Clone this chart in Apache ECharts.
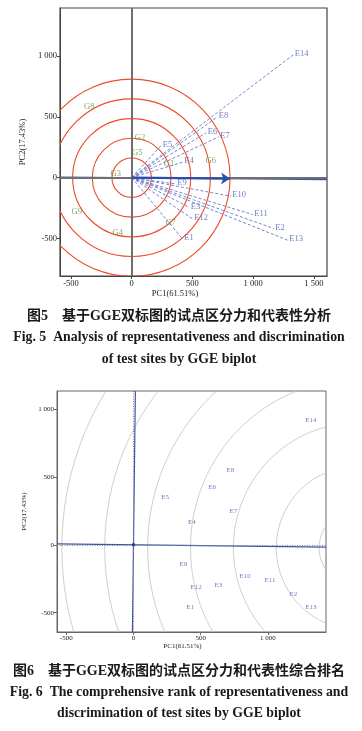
<!DOCTYPE html>
<html><head><meta charset="utf-8">
<script src="https://cdn.jsdelivr.net/npm/echarts@6/dist/echarts.min.js"></script>
<style>html,body{margin:0;padding:0;background:#fff}#c{width:362px;height:731px}</style>
</head><body><div id="c"></div>
<script>
// ---------- Figure 5 data ----------
const envNames = ['E1','E2','E3','E4','E5','E6','E7','E8','E9','E10','E11','E12','E13','E14'];
const fig5EnvX = [420, 1170, 474, 421, 243, 614, 717, 704, 363, 816, 997, 503, 1285, 1330];
const fig5EnvY = [-505, -418, -243, 128, 265, 369, 336, 498, -51, -152, -303, -339, -514, 1010];
const genoNames = ['G1','G2','G3','G4','G5','G6','G7','G8','G9'];
const fig5GenoX = [307, 69, -131, -115, 46, 651, 321, -349, -452];
const fig5GenoY = [117, 329, 29, -451, 204, 136, -372, 583, -276];
const fig5CircleRadii = [162, 324, 486, 648, 810];
const fig5AeaSlope = -0.0092;
const fig5ArrowLength = 810;
const fig5XRange = [-590, 1608];
const fig5YRange = [-808, 1395];
const fig5XTicks = [-500, 0, 500, 1000, 1500];
const fig5YTicks = [-500, 0, 500, 1000];

// ---------- Figure 6 data ----------
const fig6EnvX = [421, 1189, 631, 434, 236, 585, 743, 721, 371, 830, 1016, 466, 1320, 1320];
const fig6EnvY = [-458, -360, -294, 166, 347, 427, 244, 550, -140, -233, -263, -314, -461, 917];
const fig6CircleCenter = [1662, -23];
const fig6CircleRadii = [281, 600, 919, 1238, 1557, 1876, 2195];
const fig6AeaSlope = -0.0123;
const fig6XRange = [-569, 1432];
const fig6YRange = [-642, 1132];
const fig6XTicks = [-500, 0, 500, 1000];
const fig6YTicks = [-500, 0, 500, 1000];

const xTitle = 'PC1(61.51%)';
const yTitle = 'PC2(17.43%)';

// ---------- helpers ----------
const serif = '"Liberation Serif","Times New Roman",serif';
function fmt(v){ return Math.abs(v) >= 1000 ? String(v).replace(/(\d)(\d{3})$/, '$1 $2') : String(v); }
function zip(xs, ys, names){ return xs.map((x,i)=>[x, ys[i], names[i]]); }

function circles(xi, center, radii, color, width){
  return {
    type: 'custom', xAxisIndex: xi, yAxisIndex: xi, clip: true, silent: true, z: 1,
    data: radii.map(r => [center[0], center[1], r]),
    renderItem: function(params, api){
      const c = api.coord([api.value(0), api.value(1)]);
      const s = api.size([api.value(2), api.value(2)]);
      return { type: 'ellipse', shape: {cx: c[0], cy: c[1], rx: s[0], ry: s[1]},
               style: {fill: 'none', stroke: color, lineWidth: width} };
    }
  };
}

function makeAxis(idx, range, ticks, fs, color, name, nameGap, namePad, isY){
  const a = {
    gridIndex: idx, type: 'value', min: range[0], max: range[1],
    splitLine: {show: false},
    axisLine: {show: true, onZero: false, lineStyle: {color: color, width: 1}},
    axisTick: {show: true, customValues: ticks, length: 3, lineStyle: {color: color, width: 1}},
    axisLabel: {customValues: ticks, formatter: fmt, fontFamily: serif, fontSize: fs, color: '#222', margin: 3},
    name: name, nameLocation: 'middle', nameGap: nameGap,
    nameTextStyle: {fontFamily: serif, fontSize: fs, color: '#222', padding: namePad}
  };
  if (isY) a.nameRotate = 90;
  return a;
}

const series = [];
// Fig 5
series.push(circles(0, [0,0], fig5CircleRadii, '#ee4b2b', 1.1));
series.push({
  type: 'scatter', xAxisIndex: 0, yAxisIndex: 0, symbolSize: 0, silent: true, z: 2,
  data: [[0,0]],
  markLine: {symbol: 'none', silent: true, label: {show: false},
    lineStyle: {color: '#6f6f6f', width: 2, type: 'solid'},
    data: [{xAxis: 0}, {yAxis: 0}]}
});
series.push({
  type: 'lines', coordinateSystem: 'cartesian2d', xAxisIndex: 0, yAxisIndex: 0, z: 3, silent: true,
  lineStyle: {color: '#7486cc', width: 1, type: [3, 2], opacity: 1},
  data: fig5EnvX.map((x,i)=>({coords: [[0,0],[x, fig5EnvY[i]]]}))
});
series.push({
  type: 'line', xAxisIndex: 0, yAxisIndex: 0, showSymbol: false, silent: true, z: 4,
  lineStyle: {color: '#3a55a8', width: 1.3},
  data: [[fig5XRange[0], fig5AeaSlope*fig5XRange[0]], [fig5XRange[1], fig5AeaSlope*fig5XRange[1]]]
});
series.push({
  type: 'lines', coordinateSystem: 'cartesian2d', xAxisIndex: 0, yAxisIndex: 0, z: 5, silent: true,
  symbol: ['none', 'arrow'], symbolSize: 9,
  lineStyle: {color: '#2d4ea8', width: 2.2, opacity: 1},
  data: [{coords: [[0,0],[fig5ArrowLength, fig5AeaSlope*fig5ArrowLength]]}]
});
series.push({
  type: 'scatter', xAxisIndex: 0, yAxisIndex: 0, symbolSize: 0, silent: true, z: 6,
  data: zip(fig5EnvX, fig5EnvY, envNames),
  label: {show: true, position: 'right', distance: 1.5, offset: [0,-1], formatter: p => p.data[2],
    fontFamily: serif, fontSize: 8.5, color: '#4a5db6'}
});
series.push({
  type: 'scatter', xAxisIndex: 0, yAxisIndex: 0, symbolSize: 0, silent: true, z: 6,
  data: zip(fig5GenoX, fig5GenoY, genoNames),
  label: {show: true, position: 'inside', formatter: p => p.data[2],
    fontFamily: serif, fontSize: 8.5, color: '#5f9444'}
});

// Fig 6
series.push(circles(1, fig6CircleCenter, fig6CircleRadii, '#c9c9c9', 0.9));
series.push({
  type: 'scatter', xAxisIndex: 1, yAxisIndex: 1, symbol: 'rect', symbolSize: 3, silent: true, z: 6,
  itemStyle: {color: '#1f2f6a'},
  data: [[0,0]],
  markLine: {symbol: 'none', silent: true, label: {show: false},
    lineStyle: {color: '#8a8a8a', width: 1, type: [1, 1.5]},
    data: [{xAxis: 0}, {yAxis: 0}]}
});
series.push({
  type: 'line', xAxisIndex: 1, yAxisIndex: 1, showSymbol: false, silent: true, z: 4,
  lineStyle: {color: '#3d56a6', width: 1.2},
  data: [[fig6XRange[0], fig6AeaSlope*fig6XRange[0]], [fig6XRange[1], fig6AeaSlope*fig6XRange[1]]]
});
series.push({
  type: 'line', xAxisIndex: 1, yAxisIndex: 1, showSymbol: false, silent: true, z: 4,
  lineStyle: {color: '#3d56a6', width: 1.2},
  data: [[-fig6AeaSlope*fig6YRange[0], fig6YRange[0]], [-fig6AeaSlope*fig6YRange[1], fig6YRange[1]]]
});
series.push({
  type: 'scatter', xAxisIndex: 1, yAxisIndex: 1, symbolSize: 0, silent: true, z: 6,
  data: zip(fig6EnvX, fig6EnvY, envNames),
  label: {show: true, position: 'inside', formatter: p => p.data[2],
    fontFamily: serif, fontSize: 7, color: '#4a5db6'}
});

const capCN = '"Liberation Serif","Noto Sans CJK SC",sans-serif';
function cap(text, y, size, fam){
  return {type: 'text', x: 179, y: y, silent: true,
    style: {text: text, font: 'bold ' + size + 'px ' + fam, fill: '#1a1a1a', align: 'center', verticalAlign: 'middle'}};
}

const option = {
  animation: false,
  backgroundColor: '#fff',
  grid: [
    {left: 60, top: 8, width: 267, height: 268, show: true, borderColor: '#444', borderWidth: 1.2, backgroundColor: 'transparent'},
    {left: 57, top: 391, width: 269, height: 241, show: true, borderColor: '#666', borderWidth: 1, backgroundColor: 'transparent'}
  ],
  xAxis: [
    makeAxis(0, fig5XRange, fig5XTicks, 8.5, '#444', xTitle, 12, [0, 37, 0, 0], false),
    makeAxis(1, fig6XRange, fig6XTicks, 7, '#666', xTitle, 9, [0, 18, 0, 0], false)
  ],
  yAxis: [
    makeAxis(0, fig5YRange, fig5YTicks, 8.5, '#444', yTitle, 22, 0, true),
    makeAxis(1, fig6YRange, fig6YTicks, 7, '#666', yTitle, 19, 0, true)
  ],
  series: series,
  graphic: [
    cap('图5\u3000基于GGE双标图的试点区分力和代表性分析', 316, 14, capCN),
    cap('Fig. 5\u2002Analysis of representativeness and discrimination', 337.5, 13.8, serif),
    cap('of test sites by GGE biplot', 359, 13.8, serif),
    cap('图6\u3000基于GGE双标图的试点区分力和代表性综合排名', 671, 14, capCN),
    cap('Fig. 6\u2002The comprehensive rank of representativeness and', 692.5, 13.8, serif),
    cap('discrimination of test sites by GGE biplot', 713.5, 13.8, serif)
  ]
};
const chart = echarts.init(document.getElementById('c'));
chart.setOption(option);
</script>
</body></html>
